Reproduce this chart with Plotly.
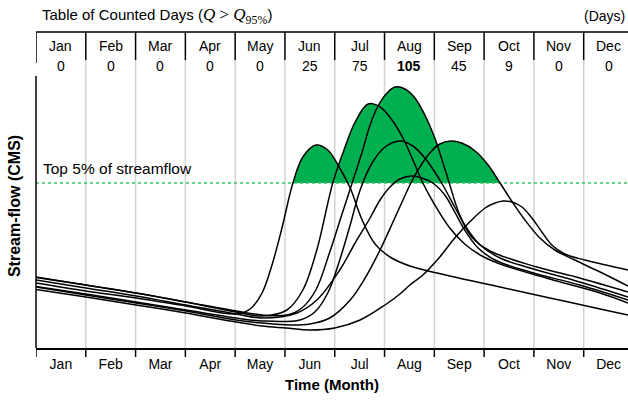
import plotly.graph_objects as go

# ---- table / axis text ----
months = ["Jan", "Feb", "Mar", "Apr", "May", "Jun",
          "Jul", "Aug", "Sep", "Oct", "Nov", "Dec"]
days_above = [0, 0, 0, 0, 0, 25, 75, 105, 45, 9, 0, 0]
busiest_month = "Aug"

# streamflow level that marks the top 5% (Q95)
q95 = 165

# ---- hydrographs: time in months (0 = 1 Jan), flow in CMS ----
jun_t = [0, 1.00, 2.01, 3.01, 4.02, 4.30, 4.54, 4.74, 4.94, 5.16, 5.36, 5.62,
         5.86, 6.10, 6.31, 6.55, 6.81, 7.11, 7.51, 8.31, 9.32, 10.32, 11.33, 11.89]
jun_q = [65, 57, 50, 42, 34, 39, 55, 83, 120, 165, 191, 203,
         198, 180, 160, 128, 104, 91, 82, 72, 61, 50, 39, 33]

jul_t = [0, 1.00, 2.01, 3.01, 4.02, 4.54, 5.04, 5.36, 5.64, 5.96, 6.20, 6.41, 6.67,
         6.91, 7.15, 7.37, 7.57, 7.77, 8.01, 8.31, 8.61, 8.92, 9.32, 10.32, 11.33, 11.89]
jul_q = [70.5, 63, 55, 46, 36, 32, 38, 58, 98, 165, 200, 226, 244,
         241, 228, 210, 188, 165, 143, 120, 104, 93, 84, 69, 55, 45]

aug_hi_t = [0, 1.00, 2.01, 3.01, 4.02, 4.54, 5.04, 5.34, 5.62, 5.90, 6.14, 6.35, 6.55, 6.71,
            6.87, 7.05, 7.21, 7.41, 7.61, 7.81, 8.01, 8.25, 8.51, 8.75, 9.12, 10.06, 10.92, 11.89]
aug_hi_q = [71, 63, 55, 46, 37, 33, 33, 40, 58, 96, 133, 165, 196, 223,
            242, 255, 261, 259, 250, 233, 210, 173, 133, 111, 97, 81, 70, 56]

aug_mid_t = [0, 1.00, 2.01, 3.01, 4.02, 4.54, 5.30, 5.60, 5.86, 6.10, 6.31, 6.51, 6.75,
             7.01, 7.31, 7.57, 7.81, 8.01, 8.17, 8.41, 8.65, 8.92, 9.32, 9.92, 10.92, 11.89]
aug_mid_q = [61.5, 54, 46, 38, 30, 27, 28, 36, 55, 88, 123, 158, 185,
             201, 207, 202, 190, 176, 163, 141, 120, 103, 90, 80, 66, 51]

aug_lo_t = [0, 1.00, 2.01, 3.01, 4.02, 4.54, 5.24, 5.64, 6.10, 6.41, 6.71, 6.91, 7.11,
            7.31, 7.55, 7.75, 7.97, 8.21, 8.41, 8.61, 8.88, 9.22, 9.92, 10.92, 11.89]
aug_lo_q = [68, 60, 52, 43, 34, 30, 35, 48, 78, 105, 130, 148, 161,
            169, 172, 170, 165, 153, 136, 118, 100, 88, 76, 63, 48]

sep_t = [0, 1.00, 2.01, 3.01, 4.02, 4.54, 5.10, 5.50, 5.90, 6.31, 6.61, 6.91, 7.17, 7.37, 7.53,
         7.71, 7.91, 8.11, 8.33, 8.55, 8.82, 9.08, 9.32, 9.58, 9.82, 10.12, 10.42, 10.82, 11.33, 11.89]
sep_q = [61, 53, 45, 37, 28, 25, 23, 24, 30, 48, 70, 98, 126, 148, 165,
         181, 195, 204, 207, 205, 197, 183, 165, 145, 128, 110, 98, 88, 76, 62]

oct_t = [0, 1.00, 2.01, 3.01, 4.02, 4.54, 5.02, 5.50, 6.00, 6.51, 7.01, 7.31, 7.51, 7.77,
         8.11, 8.41, 8.71, 9.02, 9.22, 9.38, 9.56, 9.76, 9.96, 10.16, 10.36, 10.62, 11.02, 11.89]
oct_q = [58.5, 51, 43, 35, 26, 22, 20, 18, 20, 28, 43, 54, 63, 73,
         91, 110, 126, 140, 145, 147, 146, 141, 130, 116, 103, 94, 88, 78]

hydrographs = [(jun_t, jun_q), (jul_t, jul_q), (aug_hi_t, aug_hi_q), (aug_mid_t, aug_mid_q),
               (aug_lo_t, aug_lo_q), (sep_t, sep_q), (oct_t, oct_q)]

# ---- styling ----
FONT = "Liberation Sans, Arial, Helvetica, sans-serif"
GREEN = "#00B050"
GRID = "#d2d2d2"
X_END = 11.89          # visible part of the year on the time axis
Y_TOP = 316            # flow at the top of the plotting area
TABLE_BOTTOM = 0.911   # paper y where the black table separators end
TICK_DROP = -0.0285    # paper y of the lower end of the month-boundary ticks

fig = go.Figure()

# green area: flows above Q95 (fill down, then mask everything below Q95)
for t, q in hydrographs:
    fig.add_trace(go.Scatter(x=t, y=q, mode="lines", line=dict(width=0, shape="spline"),
                             fill="tozeroy", fillcolor=GREEN, hoverinfo="skip"))
fig.add_trace(go.Scatter(x=[0, X_END], y=[q95, q95], mode="lines", line=dict(width=0),
                         fill="tozeroy", fillcolor="white", hoverinfo="skip"))

# month gridlines in the masked region
gx, gy = [], []
for m in range(1, 12):
    gx += [m, m, None]
    gy += [0, q95, None]
fig.add_trace(go.Scatter(x=gx, y=gy, mode="lines", line=dict(color=GRID, width=1.5),
                         hoverinfo="skip"))

# Q95 threshold
fig.add_trace(go.Scatter(x=[0, X_END], y=[q95, q95], mode="lines",
                         line=dict(color="#33c46a", width=1.6, dash="dot"), hoverinfo="skip"))

# hydrograph lines
for t, q in hydrographs:
    fig.add_trace(go.Scatter(x=t, y=q, mode="lines",
                             line=dict(color="black", width=1.5, shape="spline"),
                             hoverinfo="skip"))

shapes = []
# full-height month gridlines (behind the fills)
for m in range(1, 12):
    shapes.append(dict(type="line", xref="x", yref="paper", x0=m, x1=m, y0=0, y1=TABLE_BOTTOM,
                       line=dict(color=GRID, width=1.5), layer="below"))
# table: top rule and column separators
shapes.append(dict(type="line", xref="paper", yref="paper", x0=0, x1=1, y0=1, y1=1,
                   line=dict(color="black", width=1.5)))
for m in range(0, 12):
    shapes.append(dict(type="line", xref="x", yref="paper", x0=m, x1=m, y0=1,
                       y1=0.902 if m == 0 else TABLE_BOTTOM,
                       line=dict(color="black", width=1.5)))
# month-boundary ticks below the time axis
for m in range(0, 12):
    shapes.append(dict(type="line", xref="x", yref="paper", x0=m, x1=m, y0=0, y1=TICK_DROP,
                       line=dict(color="black", width=1.5)))
# left axis line
shapes.append(dict(type="line", xref="paper", yref="paper", x0=0, x1=0, y0=0, y1=0.861,
                   line=dict(color="black", width=1.5)))

annotations = []
for i, (name, n) in enumerate(zip(months, days_above)):
    annotations.append(dict(x=i + 0.5, y=0.957, xref="x", yref="paper", text=name,
                            showarrow=False, font=dict(size=14, color="black"),
                            xanchor="center", yanchor="middle"))
    label = f"<b>{n}</b>" if name == busiest_month else str(n)
    annotations.append(dict(x=i + 0.5, y=0.893, xref="x", yref="paper", text=label,
                            showarrow=False, font=dict(size=14, color="black"),
                            xanchor="center", yanchor="middle"))

annotations += [
    dict(x=0.0068, y=1.051, xref="paper", yref="paper", xanchor="left", yanchor="middle",
         showarrow=False, font=dict(size=15, color="black"),
         text='Table of Counted Days (<span style="font-family:Liberation Serif;font-size:17px">'
              '<i>Q</i> &gt; <i>Q</i><sub>95%</sub></span>)'),
    dict(x=0.998, y=1.051, xref="paper", yref="paper", xanchor="right", yanchor="middle",
         showarrow=False, font=dict(size=14, color="black"), text="(Days)"),
    dict(x=0.10, y=q95 + 15, xref="x", yref="y", xanchor="left", yanchor="middle",
         showarrow=False, font=dict(size=15.5, color="black"), text="Top 5% of streamflow"),
    dict(x=0.5, y=-0.117, xref="paper", yref="paper", xanchor="center", yanchor="middle",
         showarrow=False, font=dict(size=15, color="black"), text="<b>Time (Month)</b>"),
    dict(x=-0.035, y=0.45, xref="paper", yref="paper", xanchor="center", yanchor="middle",
         showarrow=False, textangle=-90, font=dict(size=16, color="black"),
         text="<b>Stream-flow (CMS)</b>"),
]

fig.update_layout(
    width=628, height=401,
    margin=dict(l=36, r=0, t=32, b=53),
    paper_bgcolor="white", plot_bgcolor="white",
    showlegend=False,
    font=dict(family=FONT, color="black"),
    shapes=shapes,
    annotations=annotations,
    xaxis=dict(range=[0, X_END], showgrid=False, zeroline=False,
               showline=True, linecolor="black", linewidth=1.5,
               tickmode="array", tickvals=[i + 0.5 for i in range(12)], ticktext=months,
               ticks="outside", ticklen=2, tickcolor="rgba(0,0,0,0)",
               tickfont=dict(size=14, color="black"),
               fixedrange=True),
    yaxis=dict(range=[0, Y_TOP], visible=False, fixedrange=True),
)

fig.write_html("out.html")
